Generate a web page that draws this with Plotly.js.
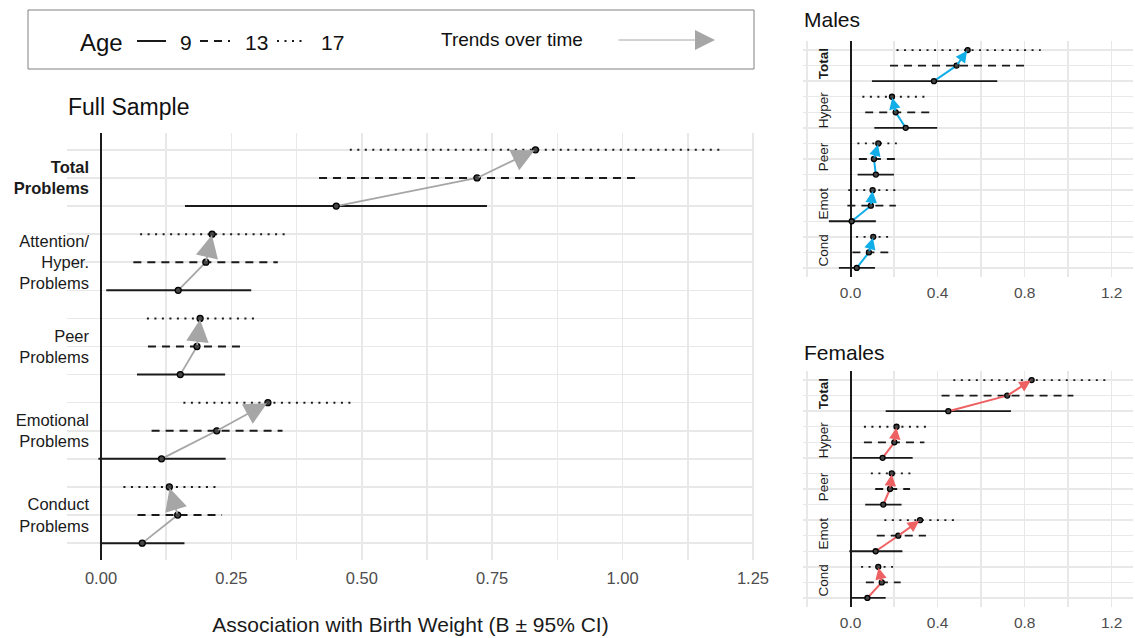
<!DOCTYPE html>
<html>
<head>
<meta charset="utf-8">
<script src="https://cdn.plot.ly/plotly-3.0.1.min.js"></script>
<style>html,body{margin:0;padding:0;background:#fff;}#chart{width:1135px;height:638px;}</style>
</head>
<body>
<div id="chart"></div>
<script>
// ---------------- DATA ----------------
const outcomes = ['Total Problems', 'Attention/Hyper. Problems', 'Peer Problems', 'Emotional Problems', 'Conduct Problems'];
const ages = [9, 13, 17];
const fullLabels = ['<b>Total</b><br><b>Problems</b>', 'Attention/<br>Hyper.<br>Problems', 'Peer<br>Problems', 'Emotional<br>Problems', 'Conduct<br>Problems'];
const shortLabels = ['<b>Total</b>', 'Hyper', 'Peer', 'Emot', 'Cond'];
const mainTickStep = 0.25;
const sexTickStep = 0.4;

// Full sample
const full_est_9  = [0.451, 0.148, 0.152, 0.116, 0.079];
const full_lo_9   = [0.161, 0.010, 0.069, -0.005, -0.002];
const full_hi_9   = [0.740, 0.288, 0.238, 0.239, 0.160];
const full_est_13 = [0.721, 0.201, 0.184, 0.222, 0.147];
const full_lo_13  = [0.418, 0.062, 0.090, 0.097, 0.070];
const full_hi_13  = [1.026, 0.339, 0.276, 0.348, 0.232];
const full_est_17 = [0.833, 0.213, 0.190, 0.320, 0.131];
const full_lo_17  = [0.477, 0.075, 0.088, 0.158, 0.043];
const full_hi_17  = [1.194, 0.362, 0.297, 0.487, 0.220];

// Males
const male_est_9  = [0.383, 0.253, 0.116, 0.005, 0.028];
const male_lo_9   = [0.098, 0.109, 0.032, -0.100, -0.054];
const male_hi_9   = [0.674, 0.398, 0.199, 0.116, 0.112];
const male_est_13 = [0.487, 0.207, 0.107, 0.093, 0.084];
const male_lo_13  = [0.181, 0.067, 0.038, -0.015, 0.008];
const male_hi_13  = [0.797, 0.362, 0.204, 0.208, 0.173];
const male_est_17 = [0.538, 0.190, 0.127, 0.101, 0.104];
const male_lo_17  = [0.211, 0.054, 0.031, -0.011, 0.025];
const male_hi_17  = [0.874, 0.352, 0.234, 0.227, 0.196];

// Females
const fem_est_9  = [0.449, 0.147, 0.150, 0.115, 0.077];
const fem_lo_9   = [0.161, 0.009, 0.067, -0.006, 0.002];
const fem_hi_9   = [0.737, 0.285, 0.234, 0.238, 0.161];
const fem_est_13 = [0.720, 0.201, 0.181, 0.219, 0.143];
const fem_lo_13  = [0.418, 0.061, 0.113, 0.120, 0.070];
const fem_hi_13  = [1.024, 0.339, 0.273, 0.346, 0.230];
const fem_est_17 = [0.832, 0.211, 0.189, 0.319, 0.127];
const fem_lo_17  = [0.472, 0.061, 0.093, 0.155, 0.048];
const fem_hi_17  = [1.195, 0.362, 0.296, 0.484, 0.219];

// ---------------- BUILD ----------------
const W = 1135, H = 638;
const px = v => v / W;
const py = v => 1 - v / H;
const FONT = 'Liberation Sans, Arial, sans-serif';
const GRID = '#e8e8e8';

function rowY(i, a) { return 13 - 3 * i + a; }

const dashes = ['solid', '8px,6px', '2px,5.5px'];

const panels = [
  {xa: 'x',  ya: 'y',  est: [full_est_9, full_est_13, full_est_17], lo: [full_lo_9, full_lo_13, full_lo_17], hi: [full_hi_9, full_hi_13, full_hi_17],
   arrow: '#a6a6a6', aw: 1.8, asz: 2.5, lw: 2, msize: 6},
  {xa: 'x2', ya: 'y2', est: [male_est_9, male_est_13, male_est_17], lo: [male_lo_9, male_lo_13, male_lo_17], hi: [male_hi_9, male_hi_13, male_hi_17],
   arrow: '#11AEE8', aw: 2, asz: 1.15, lw: 1.8, msize: 5},
  {xa: 'x3', ya: 'y3', est: [fem_est_9, fem_est_13, fem_est_17], lo: [fem_lo_9, fem_lo_13, fem_lo_17], hi: [fem_hi_9, fem_hi_13, fem_hi_17],
   arrow: '#EE6163', aw: 2, asz: 1.15, lw: 1.8, msize: 5}
];

const data = [];
const annotations = [];

panels.forEach(p => {
  ages.forEach((age, a) => {
    const xs = [], ys = [];
    outcomes.forEach((o, i) => {
      xs.push(p.lo[a][i], p.hi[a][i], null);
      ys.push(rowY(i, a), rowY(i, a), null);
    });
    data.push({type: 'scatter', mode: 'lines', x: xs, y: ys, xaxis: p.xa, yaxis: p.ya,
      line: {color: '#1a1a1a', width: p.lw, dash: dashes[a]}, hoverinfo: 'skip', showlegend: false});
  });
  const tx = [], ty = [];
  outcomes.forEach((o, i) => {
    tx.push(p.est[0][i], p.est[1][i], null);
    ty.push(rowY(i, 0), rowY(i, 1), null);
  });
  data.push({type: 'scatter', mode: 'lines', x: tx, y: ty, xaxis: p.xa, yaxis: p.ya,
    line: {color: p.arrow, width: p.aw}, hoverinfo: 'skip', showlegend: false});
  ages.forEach((age, a) => {
    data.push({type: 'scatter', mode: 'markers', x: p.est[a], y: outcomes.map((o, i) => rowY(i, a)),
      xaxis: p.xa, yaxis: p.ya, text: outcomes.map(o => o + ', age ' + age),
      marker: {symbol: 'circle', size: p.msize, color: '#444', line: {color: '#000', width: 1.3}},
      showlegend: false});
  });
  outcomes.forEach((o, i) => {
    annotations.push({xref: p.xa, yref: p.ya, axref: p.xa, ayref: p.ya,
      x: p.est[2][i], y: rowY(i, 2), ax: p.est[1][i], ay: rowY(i, 1),
      text: '', showarrow: true, arrowhead: 2, arrowsize: p.asz, arrowwidth: p.aw,
      arrowcolor: p.arrow, standoff: 1});
  });
});

const tickvals = [];
for (let r = 1; r <= 15; r++) tickvals.push(r);
function tickTexts(labels) {
  return tickvals.map(v => {
    for (let i = 0; i < labels.length; i++) if (rowY(i, 1) === v) return labels[i];
    return '';
  });
}

function xAxisBase(domain, range, step, fmt, size, standoff) {
  return {domain: domain, range: range, tickmode: 'linear', tick0: 0, dtick: step, tickformat: fmt,
    showgrid: true, gridcolor: GRID, gridwidth: 1.5,
    minor: {tickmode: 'linear', tick0: 0, dtick: step / 2, showgrid: true, gridcolor: GRID, gridwidth: 1.5, ticks: ''},
    zeroline: true, zerolinecolor: '#1a1a1a', zerolinewidth: 2,
    showline: false, ticks: '', fixedrange: true, ticklabelstandoff: standoff,
    tickfont: {family: FONT, size: size, color: '#4d4d4d'}};
}

function yAxisSex(domain, labels) {
  return {domain: domain, range: [0.42, 15.58], anchor: 'free', position: px(831),
    tickmode: 'array', tickvals: tickvals, ticktext: tickTexts(labels), tickangle: -90,
    showgrid: true, gridcolor: GRID, gridwidth: 1.5, zeroline: false, showline: false, ticks: '',
    tickfont: {family: FONT, size: 13.5, color: '#1a1a1a'}, fixedrange: true};
}

const layout = {
  width: W, height: H,
  margin: {l: 0, r: 0, t: 0, b: 0},
  paper_bgcolor: '#fff', plot_bgcolor: '#fff',
  showlegend: false,
  font: {family: FONT, color: '#1a1a1a'},
  xaxis: Object.assign(xAxisBase([px(67), px(754)], [-0.0652, 1.252], mainTickStep, '.2f', 16.5, 6), {
    anchor: 'y',
    title: {text: 'Association with Birth Weight (B ± 95% CI)', font: {family: FONT, size: 21, color: '#1a1a1a'}, standoff: 31}
  }),
  yaxis: {domain: [py(560), py(133)], range: [0.4, 15.6], anchor: 'free', position: px(89),
    tickmode: 'array', tickvals: tickvals, ticktext: tickTexts(fullLabels),
    showgrid: true, gridcolor: GRID, gridwidth: 1.5, zeroline: false, showline: false, ticks: '',
    tickfont: {family: FONT, size: 16.5, color: '#1a1a1a'}, fixedrange: true},
  xaxis2: Object.assign(xAxisBase([px(803), px(1133)], [-0.219, 1.298], sexTickStep, '.1f', 15.5, 4), {anchor: 'y2'}),
  yaxis2: yAxisSex([py(277), py(41)], shortLabels),
  xaxis3: Object.assign(xAxisBase([px(803), px(1133)], [-0.219, 1.298], sexTickStep, '.1f', 15.5, 4), {anchor: 'y3'}),
  yaxis3: yAxisSex([py(607), py(371)], shortLabels),
  shapes: [
    {type: 'rect', xref: 'paper', yref: 'paper', x0: px(28), x1: px(754), y0: py(69), y1: py(10),
      line: {color: '#808080', width: 1}, fillcolor: 'rgba(0,0,0,0)'},
    {type: 'line', xref: 'paper', yref: 'paper', x0: px(137), x1: px(166), y0: py(41), y1: py(41), line: {color: '#1a1a1a', width: 2, dash: 'solid'}},
    {type: 'line', xref: 'paper', yref: 'paper', x0: px(200), x1: px(230), y0: py(41), y1: py(41), line: {color: '#1a1a1a', width: 2, dash: '8px,6px'}},
    {type: 'line', xref: 'paper', yref: 'paper', x0: px(277), x1: px(306), y0: py(41), y1: py(41), line: {color: '#1a1a1a', width: 2, dash: '2px,5.5px'}}
  ],
  annotations: annotations.concat([
    {xref: 'paper', yref: 'paper', x: px(78), y: py(42), xanchor: 'left', yanchor: 'middle', text: 'Age', showarrow: false,
      font: {family: FONT, size: 24, color: '#111'}},
    {xref: 'paper', yref: 'paper', x: px(178), y: py(42), xanchor: 'left', yanchor: 'middle', text: '9', showarrow: false,
      font: {family: FONT, size: 21, color: '#111'}},
    {xref: 'paper', yref: 'paper', x: px(243), y: py(42), xanchor: 'left', yanchor: 'middle', text: '13', showarrow: false,
      font: {family: FONT, size: 21, color: '#111'}},
    {xref: 'paper', yref: 'paper', x: px(319), y: py(42), xanchor: 'left', yanchor: 'middle', text: '17', showarrow: false,
      font: {family: FONT, size: 21, color: '#111'}},
    {xref: 'paper', yref: 'paper', x: px(439), y: py(40), xanchor: 'left', yanchor: 'middle', text: 'Trends over time', showarrow: false,
      font: {family: FONT, size: 19, color: '#111'}},
    {xref: 'paper', yref: 'paper', x: px(715), y: py(40), ax: -98, ay: 0, text: '', showarrow: true,
      arrowhead: 2, arrowsize: 4, arrowwidth: 1, arrowcolor: '#a6a6a6'},
    {xref: 'paper', yref: 'paper', x: px(66), y: py(107), xanchor: 'left', yanchor: 'middle', text: 'Full Sample', showarrow: false,
      font: {family: FONT, size: 23, color: '#111'}},
    {xref: 'paper', yref: 'paper', x: px(802), y: py(20), xanchor: 'left', yanchor: 'middle', text: 'Males', showarrow: false,
      font: {family: FONT, size: 21, color: '#111'}},
    {xref: 'paper', yref: 'paper', x: px(802), y: py(352), xanchor: 'left', yanchor: 'middle', text: 'Females', showarrow: false,
      font: {family: FONT, size: 21, color: '#111'}}
  ])
};

Plotly.newPlot('chart', data, layout, {displayModeBar: false, staticPlot: true});
</script>
</body>
</html>
